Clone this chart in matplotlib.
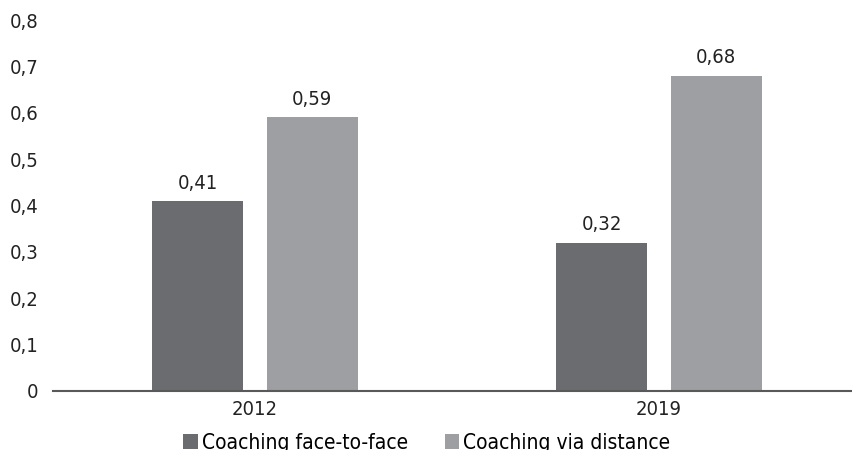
import matplotlib.pyplot as plt
import numpy as np
from matplotlib.ticker import FuncFormatter

years = ['2012', '2019']
face_to_face = [0.41, 0.32]
via_distance = [0.59, 0.68]
series_names = ['Coaching face-to-face', 'Coaching via distance']

dark = '#6b6c70'
light = '#9e9fa2'
text_col = '#222222'

plt.rcParams['font.family'] = 'DejaVu Sans'
plt.rcParams['font.stretch'] = 'condensed'
plt.rcParams['font.size'] = 14.5

fig = plt.figure(figsize=(8.52, 4.5), dpi=100)
# axes run a little past the right edge so the two groups sit where they should
ax = fig.add_axes([53 / 852, 1 - 391 / 450, 808 / 852, (391 - 20) / 450])

x = np.arange(len(years))
w = 0.225
off = 0.142
b1 = ax.bar(x - off, face_to_face, w, color=dark, label=series_names[0])
b2 = ax.bar(x + off, via_distance, w, color=light, label=series_names[1])


def comma(v, pos=None):
    s = f'{v:.2f}'.rstrip('0').rstrip('.')
    return s.replace('.', ',')


for bars in (b1, b2):
    for r in bars:
        h = r.get_height()
        ax.annotate(comma(h), (r.get_x() + r.get_width() / 2, h),
                    xytext=(0, 6), textcoords='offset points',
                    ha='center', va='bottom', color=text_col)

ax.set_xlim(-0.5, 1.5)
ax.set_ylim(0, 0.8)
ax.set_yticks(np.arange(0, 0.81, 0.1))
ax.yaxis.set_major_formatter(FuncFormatter(comma))
ax.set_xticks(x)
ax.set_xticklabels(years)
ax.tick_params(axis='both', length=0, colors=text_col)
ax.tick_params(axis='y', pad=10.5)
ax.tick_params(axis='x', pad=6.5)

for side in ('top', 'right', 'left'):
    ax.spines[side].set_visible(False)
ax.spines['bottom'].set_color('#595959')
ax.spines['bottom'].set_linewidth(1.5)

fig.legend(loc='center', bbox_to_anchor=(427 / 852, 1 - 443 / 450), ncol=2,
           frameon=False, handlelength=0.7, handleheight=0.7, handletextpad=0.2,
           columnspacing=1.75, fontsize=15)

fig.savefig('out.png', dpi=100)
